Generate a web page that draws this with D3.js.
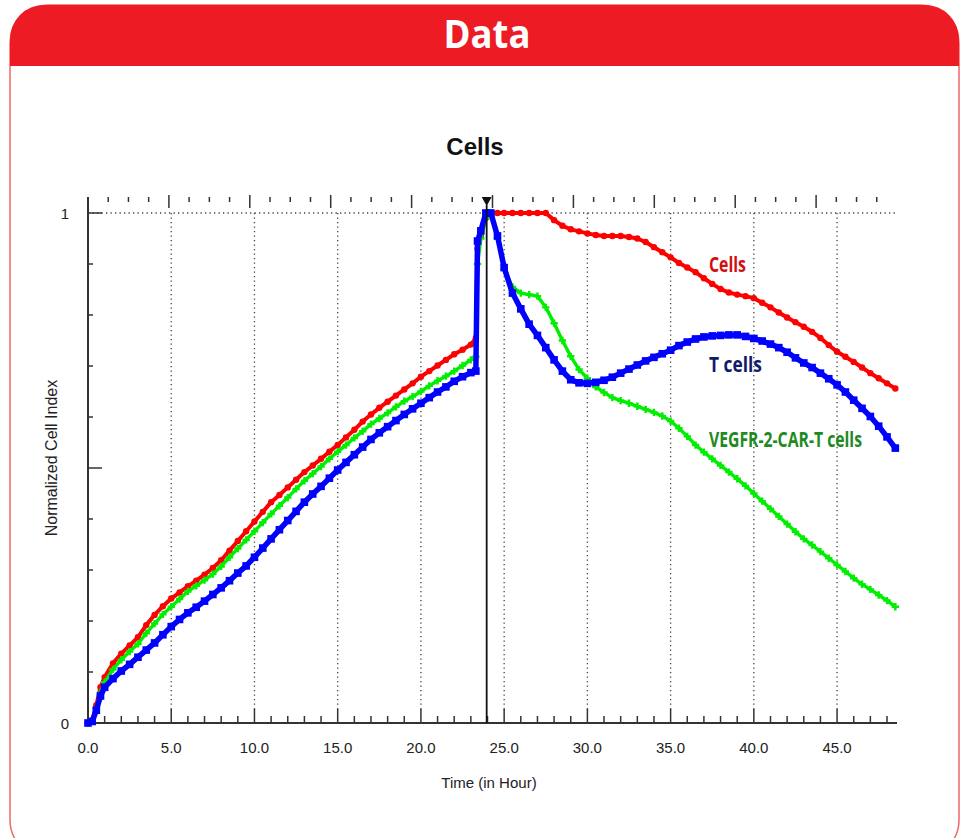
<!DOCTYPE html>
<html>
<head>
<meta charset="utf-8">
<script src="https://cdnjs.cloudflare.com/ajax/libs/d3/7.8.5/d3.min.js"></script>
<style>
    body { margin: 0; background: #fff; }
    svg { display: block; }
</style>
</head>
<body>
<svg id="chart"></svg>
<script>
// time points (hours), shared by every series
var hours = [0, 0.25, 0.5, 0.75, 1, 1.5, 2, 2.5, 3, 3.5, 4, 4.5, 5, 5.5, 6, 6.5, 7, 7.5, 8, 8.5,
    9, 9.5, 10, 10.5, 11, 11.5, 12, 12.5, 13, 13.5, 14, 14.5, 15, 15.5, 16, 16.5, 17, 17.5, 18, 18.5,
    19, 19.5, 20, 20.5, 21, 21.5, 22, 22.5, 23,
    23.3, 23.4, 23.6, 23.9, 24.2, 24.6,
    25, 25.5, 26, 26.5, 27, 27.5, 28, 28.5, 29, 29.5, 30, 30.5, 31, 31.5, 32, 32.5, 33, 33.5, 34, 34.5,
    35, 35.5, 36, 36.5, 37, 37.5, 38, 38.5, 39, 39.5, 40, 40.5, 41, 41.5, 42, 42.5, 43, 43.5, 44, 44.5,
    45, 45.5, 46, 46.5, 47, 47.5, 48, 48.5];

var cellsValues = [0, 0.005, 0.035, 0.07, 0.09, 0.117, 0.136, 0.152, 0.168, 0.192, 0.212, 0.229, 0.244, 0.256, 0.268, 0.279, 0.291, 0.304, 0.319, 0.338,
    0.357, 0.376, 0.395, 0.414, 0.433, 0.447, 0.462, 0.477, 0.492, 0.505, 0.518, 0.532, 0.545, 0.560, 0.575, 0.591, 0.605, 0.618, 0.630, 0.642,
    0.654, 0.666, 0.679, 0.690, 0.701, 0.712, 0.723, 0.732, 0.742,
    0.755, 0.93, 0.955, 0.99, 1.0, 1.0,
    1.0, 1.0, 1.0, 1.0, 1.0, 1.0, 0.986, 0.975, 0.968, 0.964, 0.960, 0.957, 0.955, 0.955, 0.955, 0.953, 0.950, 0.943, 0.933, 0.923,
    0.913, 0.902, 0.893, 0.884, 0.872, 0.861, 0.851, 0.844, 0.840, 0.837, 0.833, 0.824, 0.815, 0.805, 0.795, 0.786, 0.777, 0.767, 0.755, 0.741,
    0.728, 0.718, 0.708, 0.697, 0.686, 0.676, 0.666, 0.656];

var carTValues = [0, 0.005, 0.03, 0.06, 0.08, 0.105, 0.124, 0.14, 0.155, 0.176, 0.195, 0.213, 0.228, 0.243, 0.258, 0.269, 0.280, 0.292, 0.307, 0.325,
    0.342, 0.359, 0.376, 0.393, 0.410, 0.426, 0.442, 0.459, 0.475, 0.489, 0.503, 0.518, 0.532, 0.545, 0.559, 0.572, 0.586, 0.597, 0.608, 0.620,
    0.631, 0.640, 0.650, 0.661, 0.671, 0.680, 0.690, 0.701, 0.712,
    0.718, 0.90, 0.95, 0.99, 1.0, 0.95,
    0.89, 0.855, 0.843, 0.840, 0.837, 0.815, 0.784, 0.750, 0.719, 0.693, 0.676, 0.659, 0.648, 0.638, 0.632, 0.627, 0.621, 0.615, 0.609, 0.602,
    0.592, 0.578, 0.562, 0.545, 0.531, 0.518, 0.505, 0.492, 0.479, 0.465, 0.450, 0.435, 0.420, 0.405, 0.390, 0.375, 0.361, 0.349, 0.336, 0.323,
    0.310, 0.297, 0.284, 0.272, 0.262, 0.251, 0.240, 0.228];

var tCellsValues = [0, 0.003, 0.025, 0.053, 0.07, 0.087, 0.102, 0.115, 0.129, 0.143, 0.157, 0.173, 0.189, 0.203, 0.216, 0.227, 0.239, 0.252, 0.265, 0.279,
    0.294, 0.308, 0.325, 0.343, 0.361, 0.379, 0.397, 0.415, 0.433, 0.449, 0.464, 0.480, 0.496, 0.511, 0.526, 0.541, 0.556, 0.569, 0.581, 0.593,
    0.605, 0.616, 0.627, 0.638, 0.649, 0.659, 0.670, 0.679, 0.687,
    0.690, 0.945, 0.965, 1.0, 1.0, 0.955,
    0.893, 0.843, 0.812, 0.782, 0.760, 0.736, 0.712, 0.690, 0.673, 0.667, 0.666, 0.668, 0.672, 0.678, 0.686, 0.694, 0.702, 0.710, 0.717, 0.724,
    0.731, 0.740, 0.747, 0.753, 0.757, 0.759, 0.760, 0.761, 0.761, 0.758, 0.754, 0.749, 0.743, 0.736, 0.727, 0.716, 0.706, 0.697, 0.686, 0.675,
    0.663, 0.649, 0.633, 0.617, 0.601, 0.582, 0.561, 0.539];

var xTickValues = [0, 5, 10, 15, 20, 25, 30, 35, 40, 45];
var yTickLabels = [{v: 0, text: "0"}, {v: 1, text: "1"}];
var seriesNames = ["Cells", "T cells", "VEGFR-2-CAR-T cells"];
var addTime = 23.95;   // the compound addition marker

var width = 969, height = 838;
var svg = d3.select("#chart").attr("width", width).attr("height", height);

// card with red header
var cardLeft = 10, cardRight = 959, cardTop = 5, headerBottom = 66, rad = 34;
svg.append("rect")
    .attr("x", cardLeft).attr("y", cardTop)
    .attr("width", cardRight - cardLeft).attr("height", 853)
    .attr("rx", 38).attr("ry", 38)
    .style("fill", "#fff").style("stroke", "#f0676c").style("stroke-width", 1.5);
svg.append("path")
    .attr("d", "M" + cardLeft + "," + headerBottom +
        " V" + (cardTop + rad) +
        " A" + rad + "," + rad + " 0 0 1 " + (cardLeft + rad) + "," + cardTop +
        " H" + (cardRight - rad) +
        " A" + rad + "," + rad + " 0 0 1 " + cardRight + "," + (cardTop + rad) +
        " V" + headerBottom + " Z")
    .style("fill", "#ed1c24");
svg.append("text")
    .attr("x", 487).attr("y", 48)
    .attr("text-anchor", "middle")
    .attr("textLength", 87).attr("lengthAdjust", "spacingAndGlyphs")
    .style("font-family", "'Open Sans', sans-serif").style("font-weight", "bold")
    .style("font-size", "40px").style("fill", "#fff")
    .text("Data");

// plot scales
var x = d3.scaleLinear().domain([0, 48.6]).range([88, 897]);
var xTop = d3.scaleLinear().domain([0, 40]).range([88, 897]);
var y = d3.scaleLinear().domain([0, 1]).range([723, 213]);
var axisTop = 197;

var font = "'Liberation Sans', Arial, sans-serif";
var axisColor = "#333";

svg.append("text")
    .attr("x", 475).attr("y", 155)
    .attr("text-anchor", "middle")
    .style("font-family", font).style("font-weight", "bold")
    .style("font-size", "24px").style("fill", "#111")
    .text("Cells");

// dotted grid
svg.selectAll(".vgrid")
    .data(xTickValues.filter(function (d) { return d > 0; }))
    .enter().append("line")
    .attr("class", "vgrid")
    .attr("x1", function (d) { return x(d); }).attr("x2", function (d) { return x(d); })
    .attr("y1", y(1)).attr("y2", y(0) - 13)
    .style("stroke", "#444").style("stroke-width", 1.3).style("stroke-dasharray", "1.3,3.2");
svg.append("line")
    .attr("x1", x(0)).attr("x2", x.range()[1])
    .attr("y1", y(1)).attr("y2", y(1))
    .style("stroke", "#444").style("stroke-width", 1.3).style("stroke-dasharray", "1.3,3.2");

// bottom axis: ticks every hour, pointing up
var bottomTicks = d3.range(0, 49, 1);
svg.selectAll(".btick")
    .data(bottomTicks)
    .enter().append("line")
    .attr("class", "btick")
    .attr("x1", function (d) { return x(d); }).attr("x2", function (d) { return x(d); })
    .attr("y1", y(0))
    .attr("y2", function (d) { return d % 5 === 0 ? y(0) - 14 : y(0) - 7; })
    .style("stroke", axisColor).style("stroke-width", 1.5);
svg.selectAll(".blabel")
    .data(xTickValues)
    .enter().append("text")
    .attr("class", "blabel")
    .attr("x", function (d) { return x(d); }).attr("y", 753)
    .attr("text-anchor", "middle")
    .style("font-family", font).style("font-size", "15px").style("fill", "#222")
    .text(function (d) { return d.toFixed(1); });

// top axis: its own scale, ticks hanging down
svg.selectAll(".ttick")
    .data(d3.range(1, 40, 1))
    .enter().append("line")
    .attr("class", "ttick")
    .attr("x1", function (d) { return xTop(d); }).attr("x2", function (d) { return xTop(d); })
    .attr("y1", function (d) { return d % 4 === 0 ? axisTop - 2 : axisTop; })
    .attr("y2", function (d) { return d % 4 === 0 ? axisTop + 11 : axisTop + 5; })
    .style("stroke", axisColor).style("stroke-width", 1.5);

// left axis: ticks every 0.1 pointing right
svg.selectAll(".ltick")
    .data(d3.range(1, 11, 1))
    .enter().append("line")
    .attr("class", "ltick")
    .attr("x1", x(0))
    .attr("x2", function (d) { return d % 5 === 0 ? x(0) + 14 : x(0) + 5; })
    .attr("y1", function (d) { return y(d / 10); }).attr("y2", function (d) { return y(d / 10); })
    .style("stroke", axisColor).style("stroke-width", 1.5);
svg.selectAll(".llabel")
    .data(yTickLabels)
    .enter().append("text")
    .attr("class", "llabel")
    .attr("x", 65).attr("y", function (d) { return y(d.v) + 6; })
    .attr("text-anchor", "middle")
    .style("font-family", font).style("font-size", "15px").style("fill", "#222")
    .text(function (d) { return d.text; });

svg.append("line")
    .attr("x1", x(0)).attr("x2", x(0)).attr("y1", axisTop).attr("y2", y(0) + 1)
    .style("stroke", axisColor).style("stroke-width", 2);
svg.append("line")
    .attr("x1", x(0) - 1).attr("x2", x.range()[1]).attr("y1", y(0)).attr("y2", y(0))
    .style("stroke", axisColor).style("stroke-width", 2);

svg.append("text")
    .attr("transform", "translate(57," + 458 + ") rotate(-90)")
    .attr("text-anchor", "middle")
    .style("font-family", font).style("font-size", "16px").style("fill", "#222")
    .text("Normalized Cell Index");
svg.append("text")
    .attr("x", 489).attr("y", 788)
    .attr("text-anchor", "middle")
    .style("font-family", font).style("font-size", "15px").style("fill", "#222")
    .text("Time (in Hour)");

// series
function toPoints (values) {
    return values.map(function (v, i) { return {t: hours[i], v: v}; });
}

var line = d3.line()
    .x(function (d) { return x(d.t); })
    .y(function (d) { return y(d.v); });

var plot = svg.append("g");

function drawSeries (values, color, lineWidth, marker) {
    var pts = toPoints(values);
    plot.append("path")
        .datum(pts)
        .attr("d", line)
        .style("fill", "none").style("stroke", color).style("stroke-width", lineWidth)
        .style("stroke-linejoin", "round");
    var g = plot.append("g");
    if (marker === "circle") {
        g.selectAll("circle").data(pts).enter().append("circle")
            .attr("cx", function (d) { return x(d.t); })
            .attr("cy", function (d) { return y(d.v); })
            .attr("r", 3.2)
            .style("fill", color);
    } else if (marker === "square") {
        g.selectAll("rect").data(pts).enter().append("rect")
            .attr("x", function (d) { return x(d.t) - 3.8; })
            .attr("y", function (d) { return y(d.v) - 3.8; })
            .attr("width", 7.6).attr("height", 7.6)
            .style("fill", color);
    } else {
        g.selectAll("path").data(pts).enter().append("path")
            .attr("transform", function (d) { return "translate(" + x(d.t) + "," + y(d.v) + ")"; })
            .attr("d", d3.symbol().type(d3.symbolCross).size(30))
            .style("fill", color);
    }
}

drawSeries(cellsValues, "#ff0000", 4, "circle");
drawSeries(carTValues, "#00ee00", 3.4, "cross");
drawSeries(tCellsValues, "#0000ff", 5.5, "square");

// addition marker line and triangle
svg.append("line")
    .attr("x1", x(addTime)).attr("x2", x(addTime))
    .attr("y1", axisTop + 8).attr("y2", y(0))
    .style("stroke", "#111").style("stroke-width", 1.8);
svg.append("path")
    .attr("d", "M" + (x(addTime) - 5) + "," + axisTop + " L" + (x(addTime) + 5) + "," + axisTop +
        " L" + x(addTime) + "," + (axisTop + 9) + " Z")
    .style("fill", "#111");

// series labels
var labelSpecs = [
    {name: seriesNames[0], color: "#d10f0f", y: 272, w: 37},
    {name: seriesNames[1], color: "#101a6b", y: 372, w: 53},
    {name: seriesNames[2], color: "#1f8a1f", y: 447, w: 153}
];
svg.selectAll(".slabel")
    .data(labelSpecs)
    .enter().append("text")
    .attr("class", "slabel")
    .attr("x", 709).attr("y", function (d) { return d.y; })
    .attr("textLength", function (d) { return d.w; })
    .attr("lengthAdjust", "spacingAndGlyphs")
    .style("font-family", "'Open Sans', sans-serif").style("font-weight", "bold")
    .style("font-size", "22px")
    .style("fill", function (d) { return d.color; })
    .text(function (d) { return d.name; });
</script>
</body>
</html>
